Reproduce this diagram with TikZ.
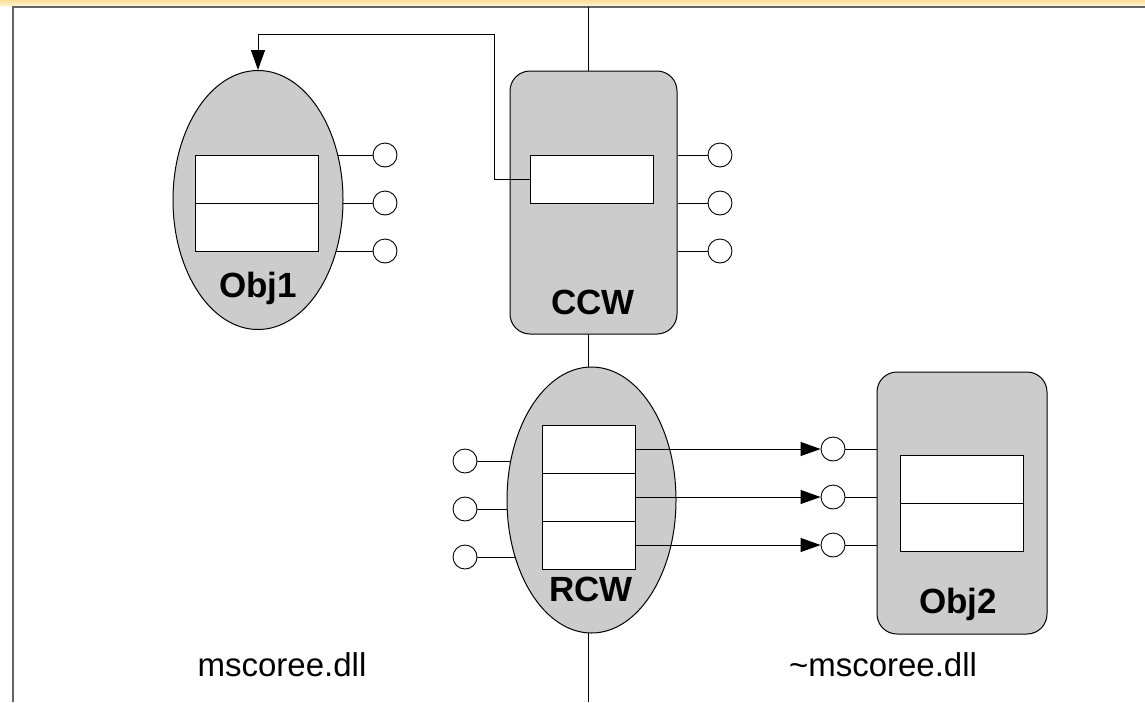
\documentclass[tikz,border=0pt]{standalone}
\usepackage{fontspec}
\setmainfont{Liberation Sans}
\usepackage{xcolor}
\usepackage{tikz}
\usetikzlibrary{shapes.geometric, arrows.meta, positioning}
\definecolor{objgray}{RGB}{204,204,204}
\definecolor{framegray}{RGB}{100,100,100}
\definecolor{bartop}{RGB}{252,222,150}
\definecolor{barbottom}{RGB}{255,246,214}
\pgfdeclarelayer{background}
\pgfsetlayers{background,main}

\begin{document}
\begin{tikzpicture}[
    x=1pt, y=-1pt,
    object/.style={ellipse, draw, fill=objgray, line width=1pt, inner sep=0pt},
    wrapper/.style={rectangle, draw, rounded corners=20pt, fill=objgray, line width=1pt, inner sep=0pt},
    slot/.style={rectangle, draw, fill=white, line width=1pt, minimum width=123pt, minimum height=48pt, inner sep=0pt, outer sep=0pt},
    iface/.style={circle, draw, fill=white, line width=0.9pt, minimum size=24pt, inner sep=0pt},
    title/.style={font=\fontsize{35}{40}\selectfont\bfseries, anchor=base},
    dll/.style={font=\fontsize{33}{38}\selectfont, anchor=base},
    arrow/.style={-{Triangle[length=20pt, width=14pt]}, line width=1pt},
    link/.style={line width=1pt}
]
    \useasboundingbox (0,0) rectangle (1145,702);

    % Frame
    \shade[top color=bartop, bottom color=barbottom] (0,0) rectangle (1145,6);
    \draw[framegray, line width=2pt] (12.5,702) -- (12.5,7) -- (1145,7);
    \draw[link] (588,7) -- (588,702);

    % Obj1
    \node[object, minimum width=170pt, minimum height=259pt] (obj1) at (258,200) {};
    \node[slot] (obj1top) at (256.5,179) {};
    \node[slot, below=0pt of obj1top] (obj1bot) {};
    \node[title] (obj1lbl) at (258,297) {Obj1};
    \node[iface] (obj1i1) at (385,155) {};
    \node[iface] (obj1i2) at (385,203) {};
    \node[iface] (obj1i3) at (385,251) {};

    % CCW
    \node[wrapper, minimum width=167pt, minimum height=263pt] (ccw) at (593.5,202.5) {};
    \node[slot] (ccwslot) at (591.5,179) {};
    \node[title] (ccwlbl) at (593,314) {CCW};
    \node[iface] (ccwi1) at (720,155) {};
    \node[iface] (ccwi2) at (720,203) {};
    \node[iface] (ccwi3) at (720,251) {};

    % RCW
    \node[object, minimum width=169pt, minimum height=266pt] (rcw) at (591.5,500) {};
    \node[slot, minimum width=93pt] (rcw1) at (588.5,449) {};
    \node[slot, minimum width=93pt, below=0pt of rcw1] (rcw2) {};
    \node[slot, minimum width=93pt, below=0pt of rcw2] (rcw3) {};
    \node[title] (rcwlbl) at (591,601) {RCW};
    \node[iface] (rcwi1) at (465,461) {};
    \node[iface] (rcwi2) at (465,509) {};
    \node[iface] (rcwi3) at (465,557) {};

    % Obj2
    \node[wrapper, minimum width=170pt, minimum height=262pt] (obj2) at (962,503) {};
    \node[slot] (obj2top) at (961.5,479) {};
    \node[slot, below=0pt of obj2top] (obj2bot) {};
    \node[title] (obj2lbl) at (958,613) {Obj2};
    \node[iface] (obj2i1) at (833,449) {};
    \node[iface] (obj2i2) at (833,497) {};
    \node[iface] (obj2i3) at (833,545) {};

    % Interfaces
    \begin{pgfonlayer}{background}
        \draw[link] (obj1i1.west) -- (obj1i1.west -| obj1.center);
        \draw[link] (obj1i2.west) -- (obj1i2.west -| obj1.center);
        \draw[link] (obj1i3.west) -- (obj1i3.west -| obj1.center);
        \draw[link] (rcwi1.east) -- (rcwi1.east -| rcw.center);
        \draw[link] (rcwi2.east) -- (rcwi2.east -| rcw.center);
        \draw[link] (rcwi3.east) -- (rcwi3.east -| rcw.center);
    \end{pgfonlayer}
    \draw[link] (ccwi1 -| ccw.east) -- (ccwi1.west);
    \draw[link] (ccwi2 -| ccw.east) -- (ccwi2.west);
    \draw[link] (ccwi3 -| ccw.east) -- (ccwi3.west);
    \draw[link] (obj2i1.east) -- (obj2i1 -| obj2.west);
    \draw[link] (obj2i2.east) -- (obj2i2 -| obj2.west);
    \draw[link] (obj2i3.east) -- (obj2i3 -| obj2.west);

    % Calls
    \draw[arrow] (ccwslot.west) -- ++(-36,0) |- ([yshift=36pt]obj1.north) -- (obj1.north);
    \draw[arrow] (rcw1.east) -- (obj2i1.west);
    \draw[arrow] (rcw2.east) -- (obj2i2.west);
    \draw[arrow] (rcw3.east) -- (obj2i3.west);

    % Modules
    \node[dll] (native) at (282,676) {mscoree.dll};
    \node[dll] (managed) at (883,676) {\textasciitilde mscoree.dll};

\end{tikzpicture}
\end{document}
